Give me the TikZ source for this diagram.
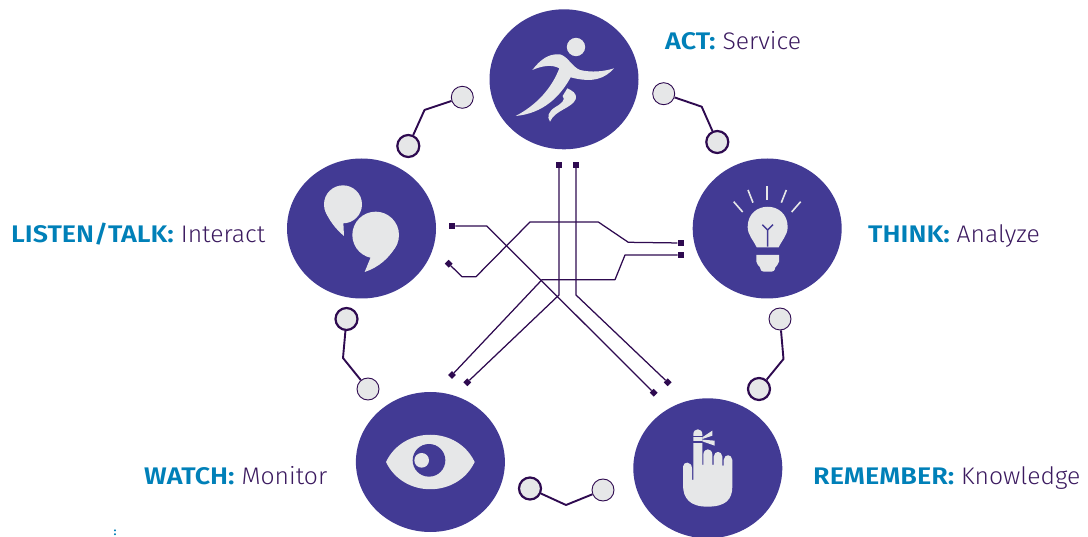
\documentclass[tikz,border=0pt]{standalone}
\usepackage{fontspec}
\setmainfont{Fira Sans}[UprightFont=* Light,BoldFont=* SemiBold]
\usetikzlibrary{shapes.geometric}
\definecolor{disc}{HTML}{423A94}
\definecolor{pale}{HTML}{E6E7E8}
\definecolor{wire}{HTML}{2E0A50}
\definecolor{headblue}{HTML}{0080B8}
\definecolor{bodyink}{HTML}{3B1A5F}
\tikzset{
  bigdisc/.style={ellipse,fill=disc,inner sep=0pt,minimum width=149pt,minimum height=140pt},
  openend/.style={circle,draw=wire,line width=0.9pt,fill=pale,inner sep=0pt,minimum size=22pt},
  heavyend/.style={circle,draw=wire,line width=2.2pt,fill=pale,inner sep=0pt,minimum size=22pt},
  sqend/.style={rectangle,fill=wire,inner sep=0pt,minimum size=6.2pt},
  diaend/.style={diamond,fill=wire,inner sep=0pt,minimum size=8pt},
  thinwire/.style={draw=wire,line width=1.25pt,line join=round},
  linkwire/.style={draw=wire,line width=1.9pt,line join=round},
  lbl/.style={anchor=base west,inner sep=0pt,font=\fontsize{24}{27}\selectfont,text=bodyink,xscale=1.03,transform shape},
  ray/.style={draw=pale,line width=1.6pt},
  fil/.style={draw=disc,line width=1.4pt},
  zoomed/.style={x=0.33333pt,y=-0.33333pt}
}
\newcommand{\head}[1]{\textcolor{headblue}{\scalebox{1.09}[1]{\textbf{#1}}}}
\begin{document}
\begin{tikzpicture}[x=1pt,y=-1pt]
\useasboundingbox (0,0) rectangle (1088,537);
\clip (0,0) rectangle (1088,537);
% discs
\node[bigdisc] (act) at (564,79.3) {};
\node[bigdisc] (listen) at (361.5,228.5) {};
\node[bigdisc] (think) at (767.2,228.5) {};
\node[bigdisc] (watch) at (430.4,462) {};
\node[bigdisc] (remember) at (707.8,468.3) {};
% outer links
\node[openend] (l1) at (663.7,93.7) {};
\node[heavyend] (h1) at (717.3,142) {};
\draw[linkwire] (l1) -- (701.7,106.7) -- (h1);
\node[openend] (l2) at (462.3,97.3) {};
\node[heavyend] (h2) at (408.3,146) {};
\draw[linkwire] (l2) -- (424.5,110) -- (h2);
\node[openend] (l3) at (780,319) {};
\node[heavyend] (h3) at (759,389) {};
\draw[linkwire] (l3) -- (783.5,359) -- (h3);
\node[heavyend] (h4) at (346.5,319) {};
\node[openend] (l4) at (368,389) {};
\draw[linkwire] (h4) -- (343,358) -- (l4);
\node[heavyend] (h5) at (530,488.5) {};
\node[openend] (l5) at (603,490) {};
\draw[linkwire] (h5) -- (566,505) -- (l5);
% centre wires
\node[sqend] (t1) at (559,164.7) {};
\node[sqend] (t2) at (576,164.7) {};
\node[sqend] (s3) at (452,226) {};
\node[sqend] (r4) at (680.7,243) {};
\node[sqend] (r5) at (681,255) {};
\node[diaend] (d1) at (467.3,382.3) {};
\node[diaend] (d2) at (667.7,382.3) {};
\node[diaend] (d3) at (653.7,392.7) {};
\node[diaend] (d4) at (448.7,263.7) {};
\node[diaend] (d5) at (452,375) {};
\draw[thinwire] (t1) -- (559,295) -- (d1);
\draw[thinwire] (t2) -- (576,295) -- (d2);
\draw[thinwire] (s3) -- (486.7,226) -- (d3);
\draw[thinwire] (d4) -- (462,276.7) -- (476,276.7) -- (530,222) -- (598.3,222) -- (628.3,242.3) -- (r4);
\draw[thinwire] (r5) -- (625,255) -- (615,279.7) -- (542,279.7) -- (d5);
% runner
\begin{scope}[shift={(480,0)},zoomed]
\fill[pale] (288,141) circle[radius=27.5];
\fill[pale] (157,210) .. controls (180,180) and (205,160) .. (240,163)
  .. controls (265,170) and (275,200) .. (300,210)
  .. controls (335,218) and (370,215) .. (402,205)
  .. controls (375,235) and (340,250) .. (272,232)
  .. controls (240,290) and (190,340) .. (107,348)
  .. controls (170,315) and (215,265) .. (238,205)
  .. controls (215,192) and (185,198) .. (157,210) -- cycle;
\fill[pale] (262,265) .. controls (275,272) and (292,278) .. (287,298)
  .. controls (275,325) and (225,330) .. (210,365)
  .. controls (200,350) and (205,335) .. (225,322)
  .. controls (245,310) and (258,300) .. (248,288) -- cycle;
\end{scope}
% speech bubbles
\begin{scope}[shift={(280,150)},zoomed]
\fill[pale] (189,163) circle[radius=57];
\fill[pale] (134,178) .. controls (145,210) and (170,240) .. (192,258)
  -- (190,218) -- (200,200) -- cycle;
\fill[pale] (287,255) circle[radius=70];
\fill[pale] (272,322) -- (254,366) .. controls (295,352) and (330,325) .. (352,280) -- cycle;
\end{scope}
% bulb
\begin{scope}[shift={(690,150)},zoomed]
\draw[ray] (131,155) -- (158,186);
\draw[ray] (174,120) -- (189,158);
\draw[ray] (231,108) -- (231,150);
\draw[ray] (289,120) -- (274,158);
\draw[ray] (332,155) -- (305,186);
\fill[pale] (200,292) .. controls (190,270) and (173,255) .. (173,231)
  .. controls (173,150) and (293,150) .. (293,231)
  .. controls (293,255) and (276,270) .. (266,292) -- cycle;
\fill[pale] (199,315) -- (267,315) -- (267,335) .. controls (267,345) and (258,345) .. (256,352)
  .. controls (254,362) and (250,365) .. (245,365) -- (221,365) .. controls (216,365) and (212,362) .. (210,352)
  .. controls (208,345) and (199,345) .. (199,335) -- cycle;
\draw[fil] (233,290) -- (233,240) (217,224) -- (233,240) -- (249,224);
\end{scope}
% eye
\begin{scope}[shift={(350,390)},zoomed]
\fill[pale] (108,216) .. controls (160,107) and (322,107) .. (374,216)
  .. controls (322,325) and (160,325) .. (108,216) -- cycle;
\fill[disc] (237,211) circle[radius=49];
\fill[pale] (215,211) circle[radius=22];
\end{scope}
% hand
\begin{scope}[shift={(630,395)},zoomed]
\fill[pale] (159,215) .. controls (160,198) and (185,198) .. (186,220) -- (186,255) -- (190,255)
  -- (190,118) .. controls (190,98) and (217,98) .. (217,118)
  -- (217,210) -- (220,210) -- (220,178) .. controls (222,158) and (245,158) .. (247,178)
  -- (247,210) -- (251,210) -- (251,185) .. controls (253,166) and (275,166) .. (277,185)
  -- (277,212) -- (281,212) -- (281,195) .. controls (283,176) and (305,176) .. (307,195)
  -- (307,275) .. controls (307,315) and (285,335) .. (232,335)
  .. controls (180,335) and (159,310) .. (159,270) -- cycle;
\fill[disc] (188,122) rectangle (219,127);
\fill[disc] (188,139) rectangle (219,143);
\fill[pale] (217,127) -- (247,107) -- (247,122) -- (217,132) -- cycle;
\fill[pale] (217,134) -- (254,137) -- (254,152) -- (217,139) -- cycle;
\end{scope}
% labels
\node[lbl] (tact) at (665,49.3) {\head{ACT:} Service};
\node[lbl] (tlisten) at (11,243) {\head{LISTEN/TALK:} Interact};
\node[lbl] (tthink) at (868,243) {\head{THINK:} Analyze};
\node[lbl] (twatch) at (144,485) {\head{WATCH:} Monitor};
\node[lbl] (trem) at (813,485) {\head{REMEMBER:} Knowledge};
\node[lbl,font=\fontsize{11}{12}\selectfont] (stray) at (113.5,535.5) {\head{:}};
\end{tikzpicture}
\end{document}
